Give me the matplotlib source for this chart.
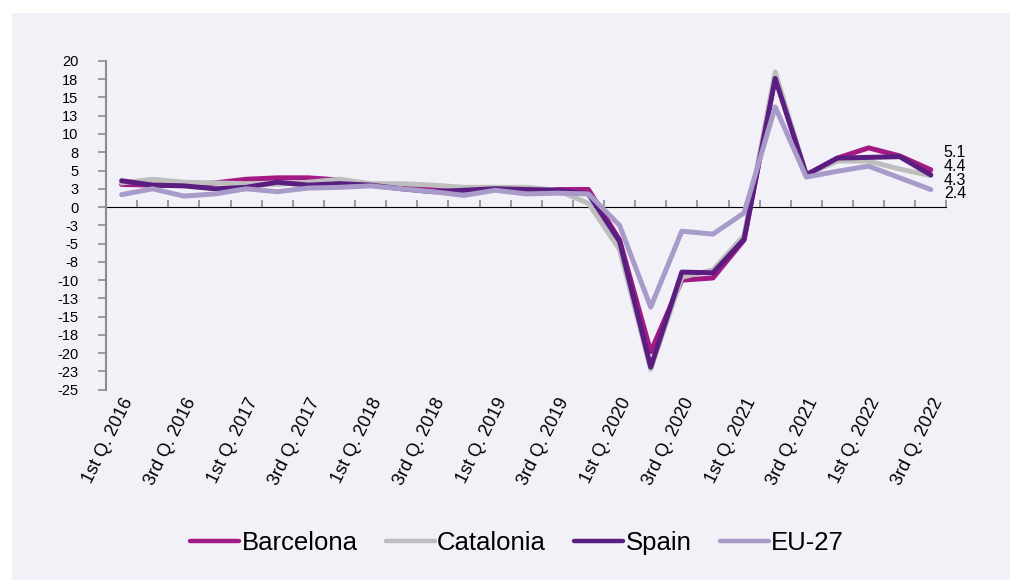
import matplotlib.pyplot as plt
from matplotlib.patches import Rectangle

# quarterly GDP growth, year-on-year %
quarters = []
for y in range(2016, 2023):
    for q in ["1st", "2nd", "3rd", "4th"]:
        quarters.append(f"{q} Q. {y}")
quarters = quarters[:27]  # up to 3rd Q. 2022

barcelona = [3.1, 3.0, 3.0, 3.3, 3.8, 4.0, 4.0, 3.7, 3.1, 2.7,
             2.5, 2.6, 2.5, 2.4, 2.4, 2.4, -4.5, -19.8, -10.0, -9.7,
             -4.5, 17.8, 4.4, 6.7, 8.1, 7.0, 5.1]
catalonia = [3.3, 3.8, 3.4, 3.3, 3.2, 3.1, 3.4, 3.8, 3.2, 3.2,
             3.0, 2.7, 2.7, 2.7, 2.3, 0.5, -5.8, -22.2, -9.6, -8.6,
             -3.9, 18.5, 4.4, 6.3, 6.3, 5.2, 4.3]
spain = [3.6, 3.0, 2.9, 2.5, 2.7, 3.4, 3.0, 3.2, 3.0, 2.5,
         2.1, 2.3, 2.5, 2.4, 2.3, 1.8, -4.7, -21.9, -8.9, -9.0,
         -4.4, 17.6, 4.4, 6.7, 6.8, 6.9, 4.4]
eu27 = [1.7, 2.5, 1.5, 1.8, 2.5, 2.1, 2.6, 2.7, 2.9, 2.5,
        2.1, 1.6, 2.3, 1.8, 1.9, 1.8, -2.5, -13.7, -3.3, -3.7,
        -0.8, 13.7, 4.1, 4.9, 5.6, 4.0, 2.4]

series = ["Barcelona", "Catalonia", "Spain", "EU-27"]
colors = ["#a31a84", "#bebebe", "#5b1e80", "#a99bc9"]

y_ticks = [20, 17.5, 15, 12.5, 10, 7.5, 5, 2.5, 0, -2.5, -5, -7.5, -10,
           -12.5, -15, -17.5, -20, -22.5, -25]
y_tick_labels = ["20", "18", "15", "13", "10", "8", "5", "3", "0", "-3", "-5",
                 "-8", "-10", "-13", "-15", "-18", "-20", "-23", "-25"]

bg = "#f2f1f8"
axis_col = "#8c8c8c"
plt.rcParams["font.family"] = ["Liberation Sans", "DejaVu Sans"]

fig = plt.figure(figsize=(10.1, 5.8), dpi=100, facecolor="white")
fig.patches.append(Rectangle((12 / 1010, 0), 1, 1 - 13 / 580,
                             transform=fig.transFigure, facecolor=bg,
                             edgecolor="none", zorder=-10))
ax = fig.add_axes([0.105, 0.328, 0.832, 0.567])
ax.set_facecolor("none")

x = list(range(len(quarters)))
data = [barcelona, catalonia, spain, eu27]
for name, vals, c in zip(series, data, colors):
    ax.plot(x, vals, color=c, lw=3.6, label=name,
            solid_joinstyle="round", solid_capstyle="round")

ylo, yhi = -25, 20
ax.set_ylim(ylo, yhi)
ax.set_xlim(-0.5, len(quarters) - 0.5)

ax.set_yticks(y_ticks)
ax.set_yticklabels(y_tick_labels, fontsize=10.5)
ax.tick_params(axis="y", direction="out", length=6, width=1.2,
               color=axis_col, pad=14)

# category labels below the plot, every second quarter
ax.set_xticks(x[::2])
ax.set_xticklabels(quarters[::2], rotation=63.5, ha="right", va="top",
                   rotation_mode="anchor", fontsize=13)
ax.tick_params(axis="x", length=0, pad=4)

for s in ["top", "right", "bottom"]:
    ax.spines[s].set_visible(False)
ax.spines["left"].set_color(axis_col)
ax.spines["left"].set_linewidth(1.5)

# horizontal axis line at zero with boundary tick marks
zero_axis = ax.secondary_xaxis((0 - ylo) / (yhi - ylo))
zero_axis.set_xticks([i - 0.5 for i in range(len(quarters) + 1)])
zero_axis.set_xticklabels([])
zero_axis.tick_params(direction="out", length=5, width=1.2, color=axis_col)
zero_axis.spines["bottom"].set_color(axis_col)
zero_axis.spines["bottom"].set_linewidth(1.5)

# end-of-series value labels, stacked
last = sorted([(vals[-1]) for vals in data], reverse=True)
for k, v in enumerate(last):
    ax.annotate(f"{v:.1f}", xy=(x[-1], last[0]), xycoords="data",
                xytext=(13, 17 - 13.7 * k), textcoords="offset pixels",
                ha="left", va="center", fontsize=11.5, annotation_clip=False)

fig.legend(loc="center", bbox_to_anchor=(0.512, 1 - 543 / 580), ncol=4,
           frameon=False, fontsize=18.5, handlelength=1.9, handletextpad=0.1,
           columnspacing=1.1)
for line in fig.legends[0].get_lines():
    line.set_linewidth(3.2)

fig.savefig("out.png", dpi=100, facecolor="white")
